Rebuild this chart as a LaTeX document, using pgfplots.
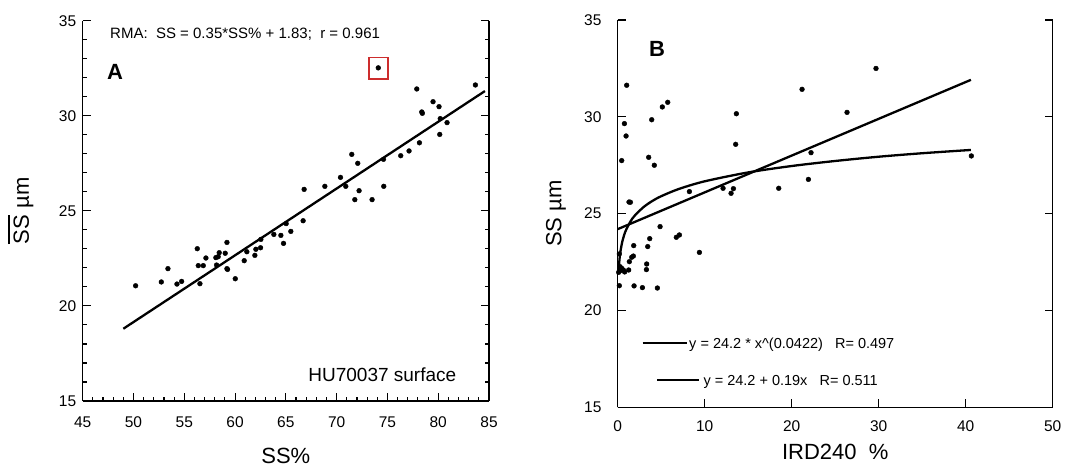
\documentclass[border=0pt]{standalone}
\usepackage{pgfplots}
\pgfplotsset{compat=1.18}
\usepackage{fontspec}
\setmainfont{Liberation Sans}

\pgfplotsset{
  myaxis/.style={
    scale only axis,
    axis x line*=bottom, axis y line*=box,
    xtick pos=bottom, ytick pos=both, yticklabel pos=left,
    tick align=inside,
    major tick length=8pt, minor tick length=4pt,
    every tick/.style={black, line width=1.1pt},
    axis line style={line width=1.5pt},
    tick label style={font=\fontsize{15.5}{18}\selectfont},
    /pgf/number format/assume math mode=true,
    label style={font=\fontsize{22}{26}\selectfont},
    clip=false,
  },
  dots/.style={only marks, mark=*, mark size=2.4pt, black},
  fit/.style={black, line width=2.3pt, no marks},
}

\newcommand{\ssbar}{\sbox0{SS}\rlap{\rule[\dimexpr\ht0+3pt\relax]{\wd0}{2pt}}\usebox0~µm}

\begin{document}
\begin{tikzpicture}
\path[use as bounding box] (0,0) rectangle (1071pt,467pt);

% ---------------- Panel A ----------------
\begin{axis}[myaxis,
  at={(82.7pt,66pt)}, anchor=south west,
  width=406.3pt, height=380.3pt,
  xmin=45, xmax=85, ymin=15, ymax=35,
  xtick={45,50,...,85}, ytick={15,20,...,35},
  minor x tick num=4, minor y tick num=4,
  xticklabel style={yshift=-12.5pt},
  yticklabel style={xshift=-3pt},
  xlabel={SS\%},
  xlabel style={at={(axis description cs:0.5,-0.145)}, anchor=center},
  ylabel={\ssbar},
  ylabel style={at={(axis description cs:-0.152,0.5)}, anchor=center, rotate=0},
]
\addplot[dots] coordinates {
(50.21,21.06) (52.74,21.26) (53.39,21.96) (54.28,21.15) (54.74,21.29)
(56.28,23.01) (56.38,22.12) (56.54,21.17) (56.87,22.12) (57.13,22.52)
(58.11,22.54) (58.18,22.15) (58.34,22.59) (58.44,22.80) (59.03,22.77)
(59.2,23.34) (59.2,21.96) (59.26,21.92) (60.02,21.43) (60.9,22.38)
(61.16,22.85) (61.95,22.66) (62.05,22.98) (62.51,23.06) (62.54,23.5)
(63.82,23.76) (64.51,23.71) (64.77,23.29) (65.03,24.33) (65.49,23.92)
(66.7,24.48) (66.8,26.13) (68.84,26.29) (70.38,26.76) (70.9,26.29)
(71.49,27.97) (71.79,25.59) (72.08,27.5) (72.21,26.06) (73.49,25.59)
(74.1,32.52) (74.61,27.71) (74.64,26.29) (76.31,27.9) (77.13,28.15)
(77.89,31.41) (78.15,28.58) (78.38,30.2) (78.44,30.13) (79.49,30.74)
(80.08,30.48) (80.2,29.85) (80.15,29.02) (80.87,29.64) (83.66,31.62)
};
\addplot[fit] coordinates {(49.0,18.8) (84.6,31.3)};
\draw[color={rgb,255:red,205;green,45;blue,45}, line width=1.3pt]
  (axis cs:73.2,31.93) rectangle (axis cs:75.07,33.08);
\node[anchor=base west, font=\fontsize{15}{18}\selectfont, inner sep=0pt]
  at (axis cs:47.69,34.09) {RMA:\ \ SS = 0.35*SS\% + 1.83;\ \ r = 0.961};
\node[anchor=base west, font=\fontsize{22}{26}\selectfont\bfseries, inner sep=0pt]
  at (axis cs:47.39,31.93) {A};
\node[anchor=base west, font=\fontsize{19}{22}\selectfont, inner sep=0pt]
  at (axis cs:67.2,16.0) {HU70037 surface};
\end{axis}

% ---------------- Panel B ----------------
\begin{axis}[myaxis,
  at={(617.7pt,59.7pt)}, anchor=south west,
  width=435pt, height=387.3pt,
  xmin=0, xmax=50, ymin=15, ymax=35,
  xtick={0,10,...,50}, ytick={15,20,...,35},
  xticklabel style={yshift=-9.5pt},
  yticklabel style={xshift=-12.7pt},
  xlabel={IRD240~~\%},
  xlabel style={at={(axis description cs:0.5,-0.116)}, anchor=center},
  ylabel={SS~µm},
  ylabel style={at={(axis description cs:-0.142,0.5)}, anchor=center},
]
\addplot[dots] coordinates {
(1.03,31.63) (0.77,29.65) (0.96,29.01) (0.46,27.74) (1.46,25.59) (1.3,25.6)
(5.13,30.51) (5.75,30.75) (3.91,29.85) (3.56,27.91) (4.21,27.5)
(13.64,30.16) (13.56,28.58) (8.24,26.14) (12.11,26.31) (13.03,26.05) (13.3,26.29)
(4.87,24.33) (3.68,23.71) (3.45,23.3) (6.74,23.78) (7.09,23.9) (9.39,23.0)
(1.84,23.35) (1.8,22.81) (1.61,22.75) (1.34,22.52) (1.26,22.09)
(3.33,22.4) (3.3,22.11) (1.88,21.27) (2.84,21.18) (4.56,21.16)
(0.19,21.28) (0.11,21.97) (0.19,22.92) (0.27,22.26) (0.46,22.18)
(0.65,22.09) (0.34,22.06) (0.8,21.99)
(21.19,31.42) (29.69,32.5) (26.36,30.23) (22.22,28.15) (21.92,26.77)
(18.51,26.31) (40.65,27.98)
};
\addplot[fit] coordinates {(0,24.2) (40.6,31.91)};
\addplot[fit, smooth] coordinates {
(0.1,21.96) (0.2,22.61) (0.3,23.00) (0.5,23.50) (0.75,23.91) (1,24.2)
(1.5,24.62) (2,24.92) (3,25.35) (4,25.66) (5,25.90) (7,26.27) (10,26.67)
(15,27.13) (20,27.46) (25,27.72) (30,27.94) (35,28.12) (40.6,28.29)
};
\node[anchor=base west, font=\fontsize{22}{26}\selectfont\bfseries, inner sep=0pt]
  at (axis cs:3.6,33.09) {B};
\draw[black, line width=2.2pt] (axis cs:2.87,18.34) -- (axis cs:7.93,18.34);
\node[anchor=base west, font=\fontsize{14.5}{17}\selectfont, inner sep=0pt]
  at (axis cs:8.2,18.05) {y = 24.2 * x\^{}(0.0422)\ \ \ R= 0.497};
\draw[black, line width=2.2pt] (axis cs:4.55,16.40) -- (axis cs:9.38,16.40);
\node[anchor=base west, font=\fontsize{14.5}{17}\selectfont, inner sep=0pt]
  at (axis cs:9.84,16.12) {y = 24.2 + 0.19x\ \ \ R= 0.511};
\end{axis}
\end{tikzpicture}
\end{document}
